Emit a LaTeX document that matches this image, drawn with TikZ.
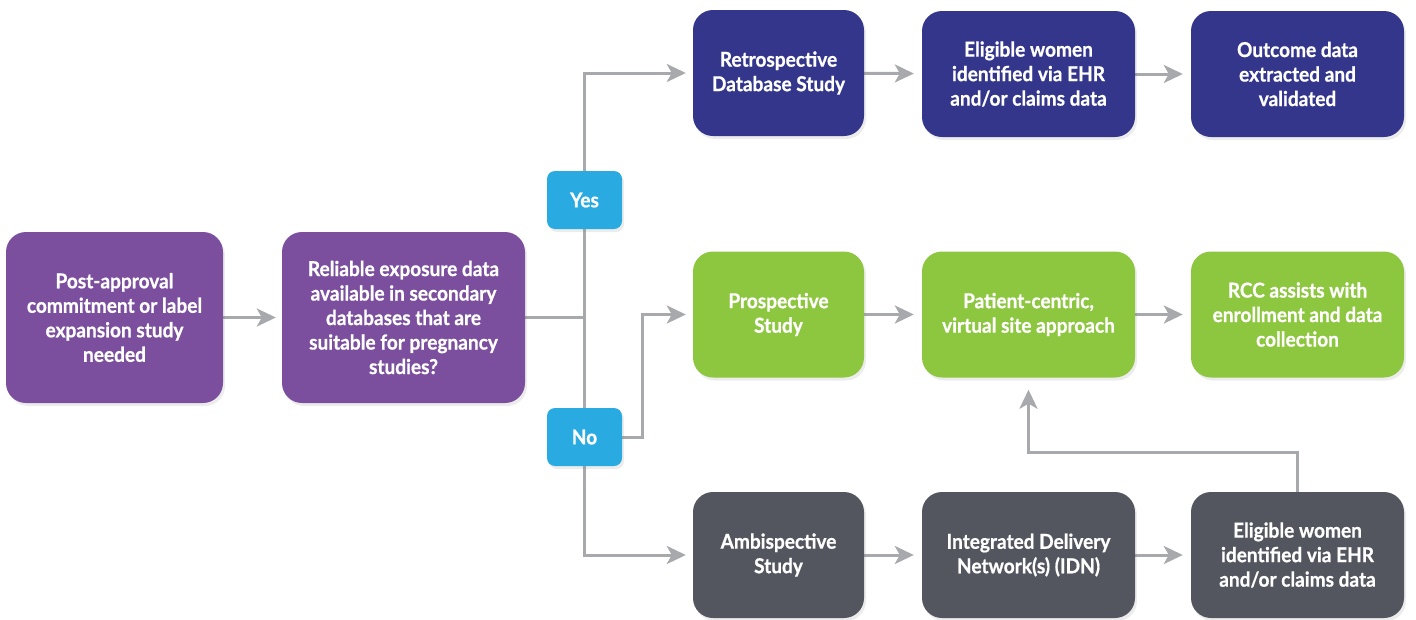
\documentclass[tikz,border=0pt]{standalone}
\usepackage{fontspec}
\setmainfont{Lato}[FakeStretch=0.93, BoldFeatures={FakeBold=0.8}]
\usetikzlibrary{arrows.meta,shadows}
\definecolor{cpurple}{HTML}{7B4F9E}
\definecolor{cnavy}{HTML}{33368B}
\definecolor{cgreen}{HTML}{8DC63F}
\definecolor{cgrey}{HTML}{53565F}
\definecolor{ccyan}{HTML}{29ABE2}
\definecolor{cline}{HTML}{A7A9AC}
\pgfdeclarelayer{bg}
\pgfsetlayers{bg,main}
\tikzset{
  box/.style={rectangle, rounded corners=20pt, text=white, align=center, inner sep=0pt,
    font=\bfseries\fontsize{20.5}{24.5}\selectfont,
    drop shadow={opacity=0.15, shadow xshift=2pt, shadow yshift=-3pt}},
  bigbox/.style={box, minimum width=213pt, minimum height=126pt},
  colbox/.style={box, minimum width=171pt, minimum height=126pt},
  choice/.style={box, fill=ccyan, rounded corners=8pt, minimum width=75pt, minimum height=58pt},
  plainline/.style={draw=cline, line width=3pt},
  conn/.style={plainline, -{Stealth[length=19pt,width=18pt,inset=5pt]}, shorten >=7pt},
}
\begin{document}
\begin{tikzpicture}[x=1pt,y=-1pt]
\useasboundingbox (0,0) rectangle (1416,619);
% left boxes
\node[box, fill=cpurple, minimum width=217pt, minimum height=171pt] (p1) at (114.5,317.5)
  {Post-approval\\commitment or label\\expansion study\\needed};
\node[box, fill=cpurple, minimum width=243pt, minimum height=171pt] (p2) at (403.5,317.5)
  {Reliable exposure data\\available in secondary\\databases that are\\suitable for pregnancy\\studies?};
% choices
\node[choice] (yes) at (584.5,200) {Yes};
\node[choice] (no) at (584.5,437) {No};
% top row
\node[colbox, fill=cnavy] (r1) at (778.5,73) {Retrospective\\Database Study};
\node[bigbox, fill=cnavy] (r2) at (1028.5,74) {Eligible women\\identified via EHR\\and/or claims data};
\node[bigbox, fill=cnavy] (r3) at (1297.5,74) {Outcome data\\extracted and\\validated};
% middle row
\node[colbox, fill=cgreen] (g1) at (778.5,314.5) {Prospective\\Study};
\node[bigbox, fill=cgreen] (g2) at (1028.5,314.5) {Patient-centric,\\virtual site approach};
\node[bigbox, fill=cgreen] (g3) at (1297.5,314.5) {RCC assists with\\enrollment and data\\collection};
% bottom row
\node[colbox, fill=cgrey] (a1) at (778.5,555) {Ambispective\\Study};
\node[bigbox, fill=cgrey] (a2) at (1028.5,555) {Integrated Delivery\\Network(s) (IDN)};
\node[bigbox, fill=cgrey] (a3) at (1297.5,555) {Eligible women\\identified via EHR\\and/or claims data};
% connectors
\begin{pgfonlayer}{bg}
\draw[conn, shorten >=6pt] (p1.east) -- (p2.west);
\coordinate (j) at (p2.east -| yes.center);
\draw[plainline] (p2.east) -- (j);
\draw[conn] (j) |- (r1.west);
\draw[plainline] (j) -- (no.center);
\draw[conn] (no.center) |- (a1.west);
\draw[conn] (no.east) -- ++(20,0) |- (g1.west);
\draw[conn, shorten >=8pt] (r1) -- (r2);
\draw[conn, shorten >=8pt] (r2) -- (r3);
\draw[conn, shorten >=8pt] (g1) -- (g2);
\draw[conn, shorten >=8pt] (g2) -- (g3);
\draw[conn, shorten >=8pt] (a1) -- (a2);
\draw[conn, shorten >=8pt] (a2) -- (a3);
\draw[conn, shorten >=12pt] (a3.north) -- ++(0,-39) -| (g2.south);
\end{pgfonlayer}
\end{tikzpicture}
\end{document}
